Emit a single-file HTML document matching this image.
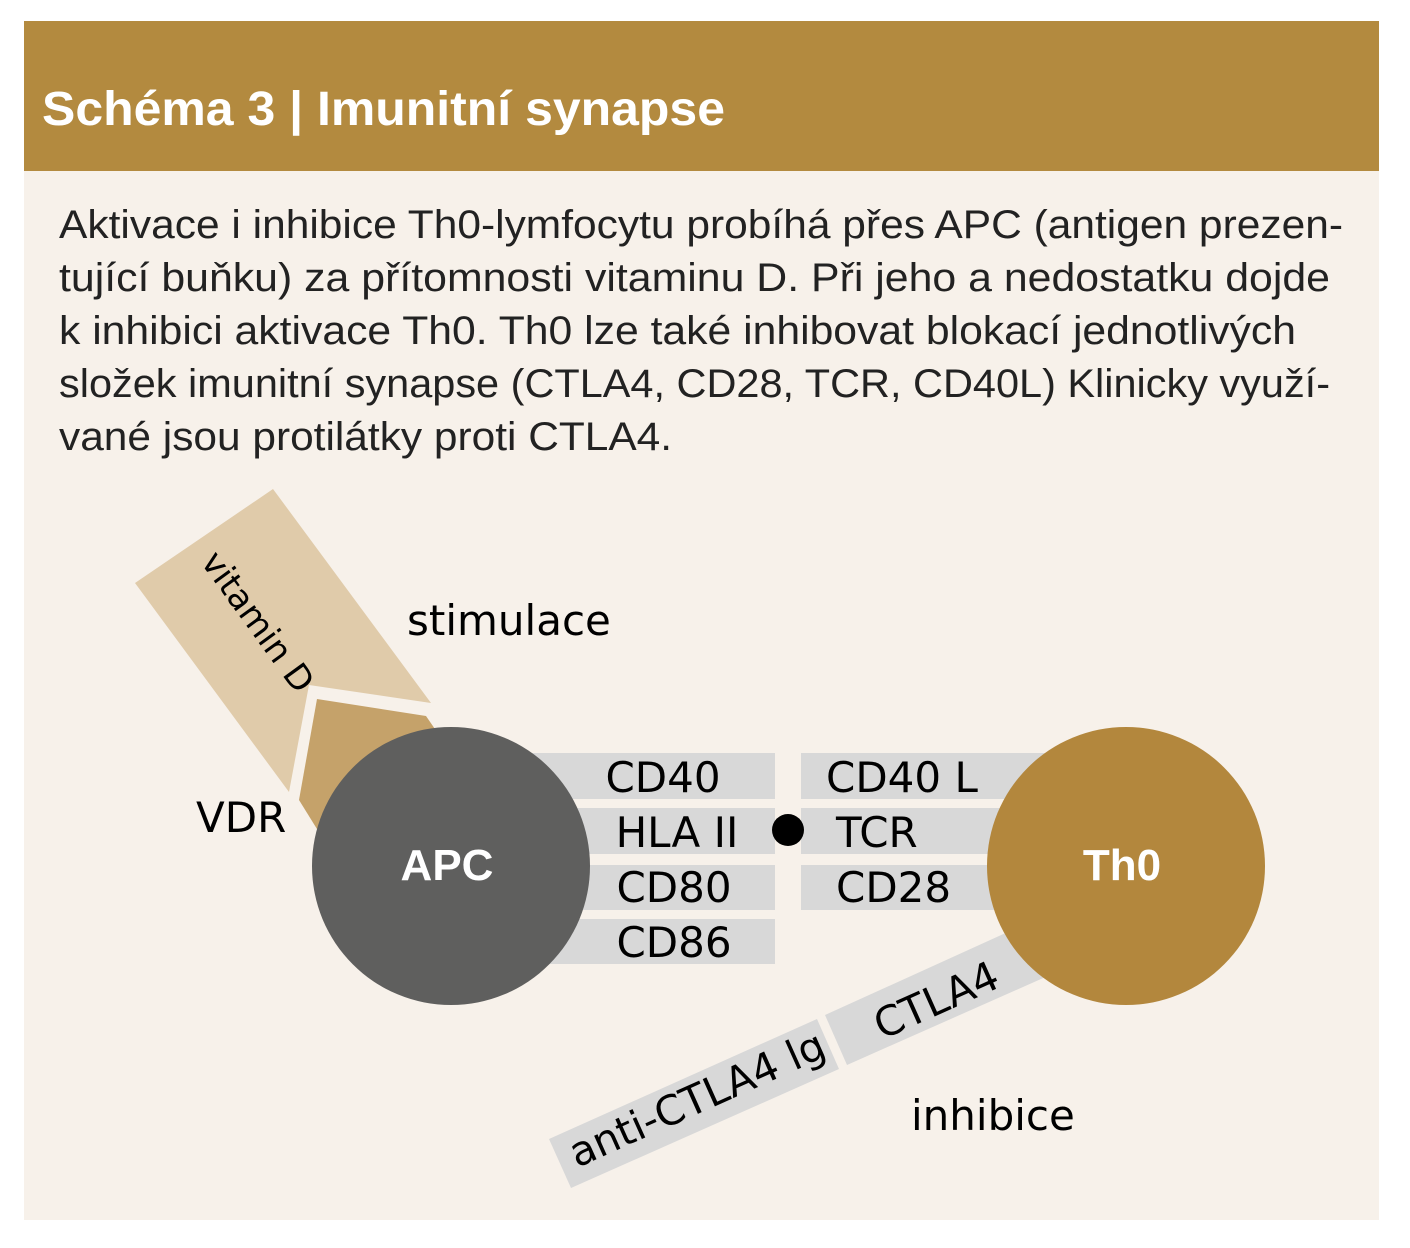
<!DOCTYPE html>
<html><head><meta charset="utf-8"><style>
html,body{margin:0;padding:0;background:#fff;}
svg{display:block;}
</style></head><body>
<svg width="1410" height="1248" viewBox="0 0 1410 1248" xmlns="http://www.w3.org/2000/svg">
<rect x="24" y="21" width="1355" height="1199" fill="#f7f1ea"/>
<rect x="24" y="21" width="1355" height="150" fill="#b38a3f"/>
<text x="42" y="125" font-family="Liberation Sans, sans-serif" font-weight="bold" font-size="48" fill="#fff" textLength="683" lengthAdjust="spacingAndGlyphs">Schéma 3 | Imunitní synapse</text>
<g font-family="Liberation Sans, sans-serif" font-size="40" fill="#222">
<text x="59" y="238" textLength="1284" lengthAdjust="spacingAndGlyphs">Aktivace i inhibice Th0-lymfocytu probíhá přes APC (antigen prezen-</text>
<text x="59" y="291" textLength="1271" lengthAdjust="spacingAndGlyphs">tující buňku) za přítomnosti vitaminu D. Při jeho a nedostatku dojde</text>
<text x="59" y="344" textLength="1237" lengthAdjust="spacingAndGlyphs">k inhibici aktivace Th0. Th0 lze také inhibovat blokací jednotlivých</text>
<text x="59" y="397" textLength="1271" lengthAdjust="spacingAndGlyphs">složek imunitní synapse (CTLA4, CD28, TCR, CD40L) Klinicky využí-</text>
<text x="59" y="450" textLength="613" lengthAdjust="spacingAndGlyphs">vané jsou protilátky proti CTLA4.</text>
</g>
<polygon points="273,489 135,583 289,792 309,685 431,703" fill="#e0cbaa"/>
<polygon points="317,699 426,716 470,780 330,850 299,800" fill="#c5a26a"/>
<polygon points="549,1139 817,1019 839,1069 571,1188" fill="#d8d8d8"/>
<polygon points="825,1015 1010,931 1050,975 847,1065" fill="#d8d8d8"/>
<g fill="#d8d8d8">
<rect x="520" y="753" width="255" height="46"/>
<rect x="520" y="808" width="255" height="46"/>
<rect x="520" y="865" width="255" height="45"/>
<rect x="520" y="919" width="255" height="45"/>
<rect x="801" y="753" width="260" height="46"/>
<rect x="801" y="808" width="260" height="46"/>
<rect x="801" y="865" width="260" height="45"/>
</g>
<circle cx="451" cy="866" r="139" fill="#5f5f5e"/>
<circle cx="1126" cy="866" r="139" fill="#b3873d"/>
<circle cx="788" cy="830" r="16" fill="#000"/>
<g font-family="DejaVu Sans, Liberation Sans, sans-serif" font-size="42" fill="#000">
<text x="663" y="792" text-anchor="middle">CD40</text>
<text x="677" y="847" text-anchor="middle">HLA II</text>
<text x="674" y="902" text-anchor="middle">CD80</text>
<text x="674" y="957" text-anchor="middle">CD86</text>
<text x="826" y="792">CD40 L</text>
<text x="836" y="847">TCR</text>
<text x="836" y="902">CD28</text>
<text x="407" y="635">stimulace</text>
<text x="196" y="832">VDR</text>
<text x="911" y="1130">inhibice</text>
<text font-size="41" transform="translate(577,1168) rotate(-24.1)">anti-CTLA4 lg</text>
<text font-size="41" transform="translate(882,1040) rotate(-24.1)">CTLA4</text>
<text font-size="34" transform="translate(200,562) rotate(54)">vitamin D</text>
</g>
<g font-family="Liberation Sans, sans-serif" font-weight="bold" font-size="44" fill="#fff">
<text x="447" y="880" text-anchor="middle">APC</text>
<text x="1122" y="880" text-anchor="middle">Th0</text>
</g>
</svg>
</body></html>
